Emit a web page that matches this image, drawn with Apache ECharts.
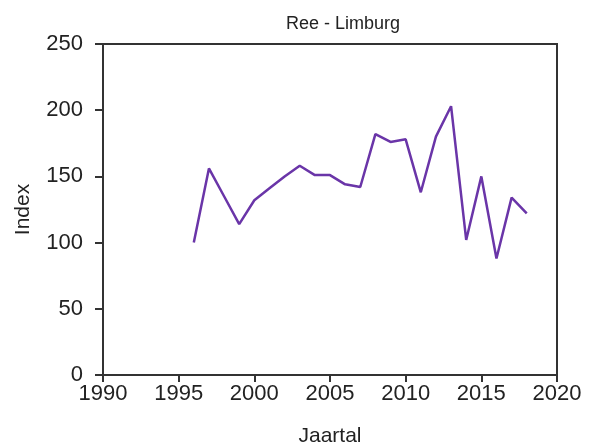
<!DOCTYPE html>
<html><head><meta charset="utf-8">
<script src="https://cdn.jsdelivr.net/npm/echarts@6/dist/echarts.min.js"></script>
<style>html,body{margin:0;padding:0;background:#fff}#c{width:591px;height:448px}</style>
</head><body><div id="c"></div>
<script>
const years = [1996,1997,1998,1999,2000,2001,2002,2003,2004,2005,2006,2007,2008,2009,2010,2011,2012,2013,2014,2015,2016,2017,2018];
const indexValues = [100,156,135,114,132,141,150,158,151,151,144,142,182,176,178,138,180,203,102,150,88,134,122];
const xTicks = [1990,1995,2000,2005,2010,2015,2020];
const yTicks = [0,50,100,150,200,250];

const chart = echarts.init(document.getElementById('c'), null, {renderer:'canvas'});
const font = 'Arial, "Liberation Sans", sans-serif';
chart.setOption({
  animation:false,
  backgroundColor:'#fff',
  title:{text:'Ree - Limburg', left:338, top:10, textAlign:'center',
    textStyle:{fontFamily:font, fontSize:18, fontWeight:'normal', color:'#222'}},
  grid:{left:103, right:34, top:44, bottom:73, containLabel:false, outerBoundsMode:'none',
    show:true, borderColor:'#333', borderWidth:2, backgroundColor:'transparent'},
  xAxis:{type:'value', min:xTicks[0], max:xTicks[xTicks.length-1], interval:5,
    name:'Jaartal', nameLocation:'middle', nameGap:51,
    nameTextStyle:{fontFamily:font, fontSize:21, color:'#222'},
    axisLine:{show:true, lineStyle:{color:'#333', width:2}},
    axisTick:{show:true, inside:false, length:7, lineStyle:{color:'#333', width:2}},
    axisLabel:{fontFamily:font, fontSize:22, color:'#222', margin:8, formatter:v=>String(v)},
    splitLine:{show:false}},
  yAxis:{type:'value', min:yTicks[0], max:yTicks[yTicks.length-1], interval:50,
    name:'Index', nameLocation:'middle', nameGap:69, nameRotate:90,
    nameTextStyle:{fontFamily:font, fontSize:21, color:'#222'},
    axisLine:{show:true, lineStyle:{color:'#333', width:2}},
    axisTick:{show:true, inside:false, length:8, lineStyle:{color:'#333', width:2}},
    axisLabel:{fontFamily:font, fontSize:22, color:'#222', margin:20},
    splitLine:{show:false}},
  series:[{type:'line', data:years.map((y,i)=>[y,indexValues[i]]), showSymbol:false,
    lineStyle:{color:'#6a35a8', width:2.5}, itemStyle:{color:'#6a35a8'}}]
});
</script></body></html>
